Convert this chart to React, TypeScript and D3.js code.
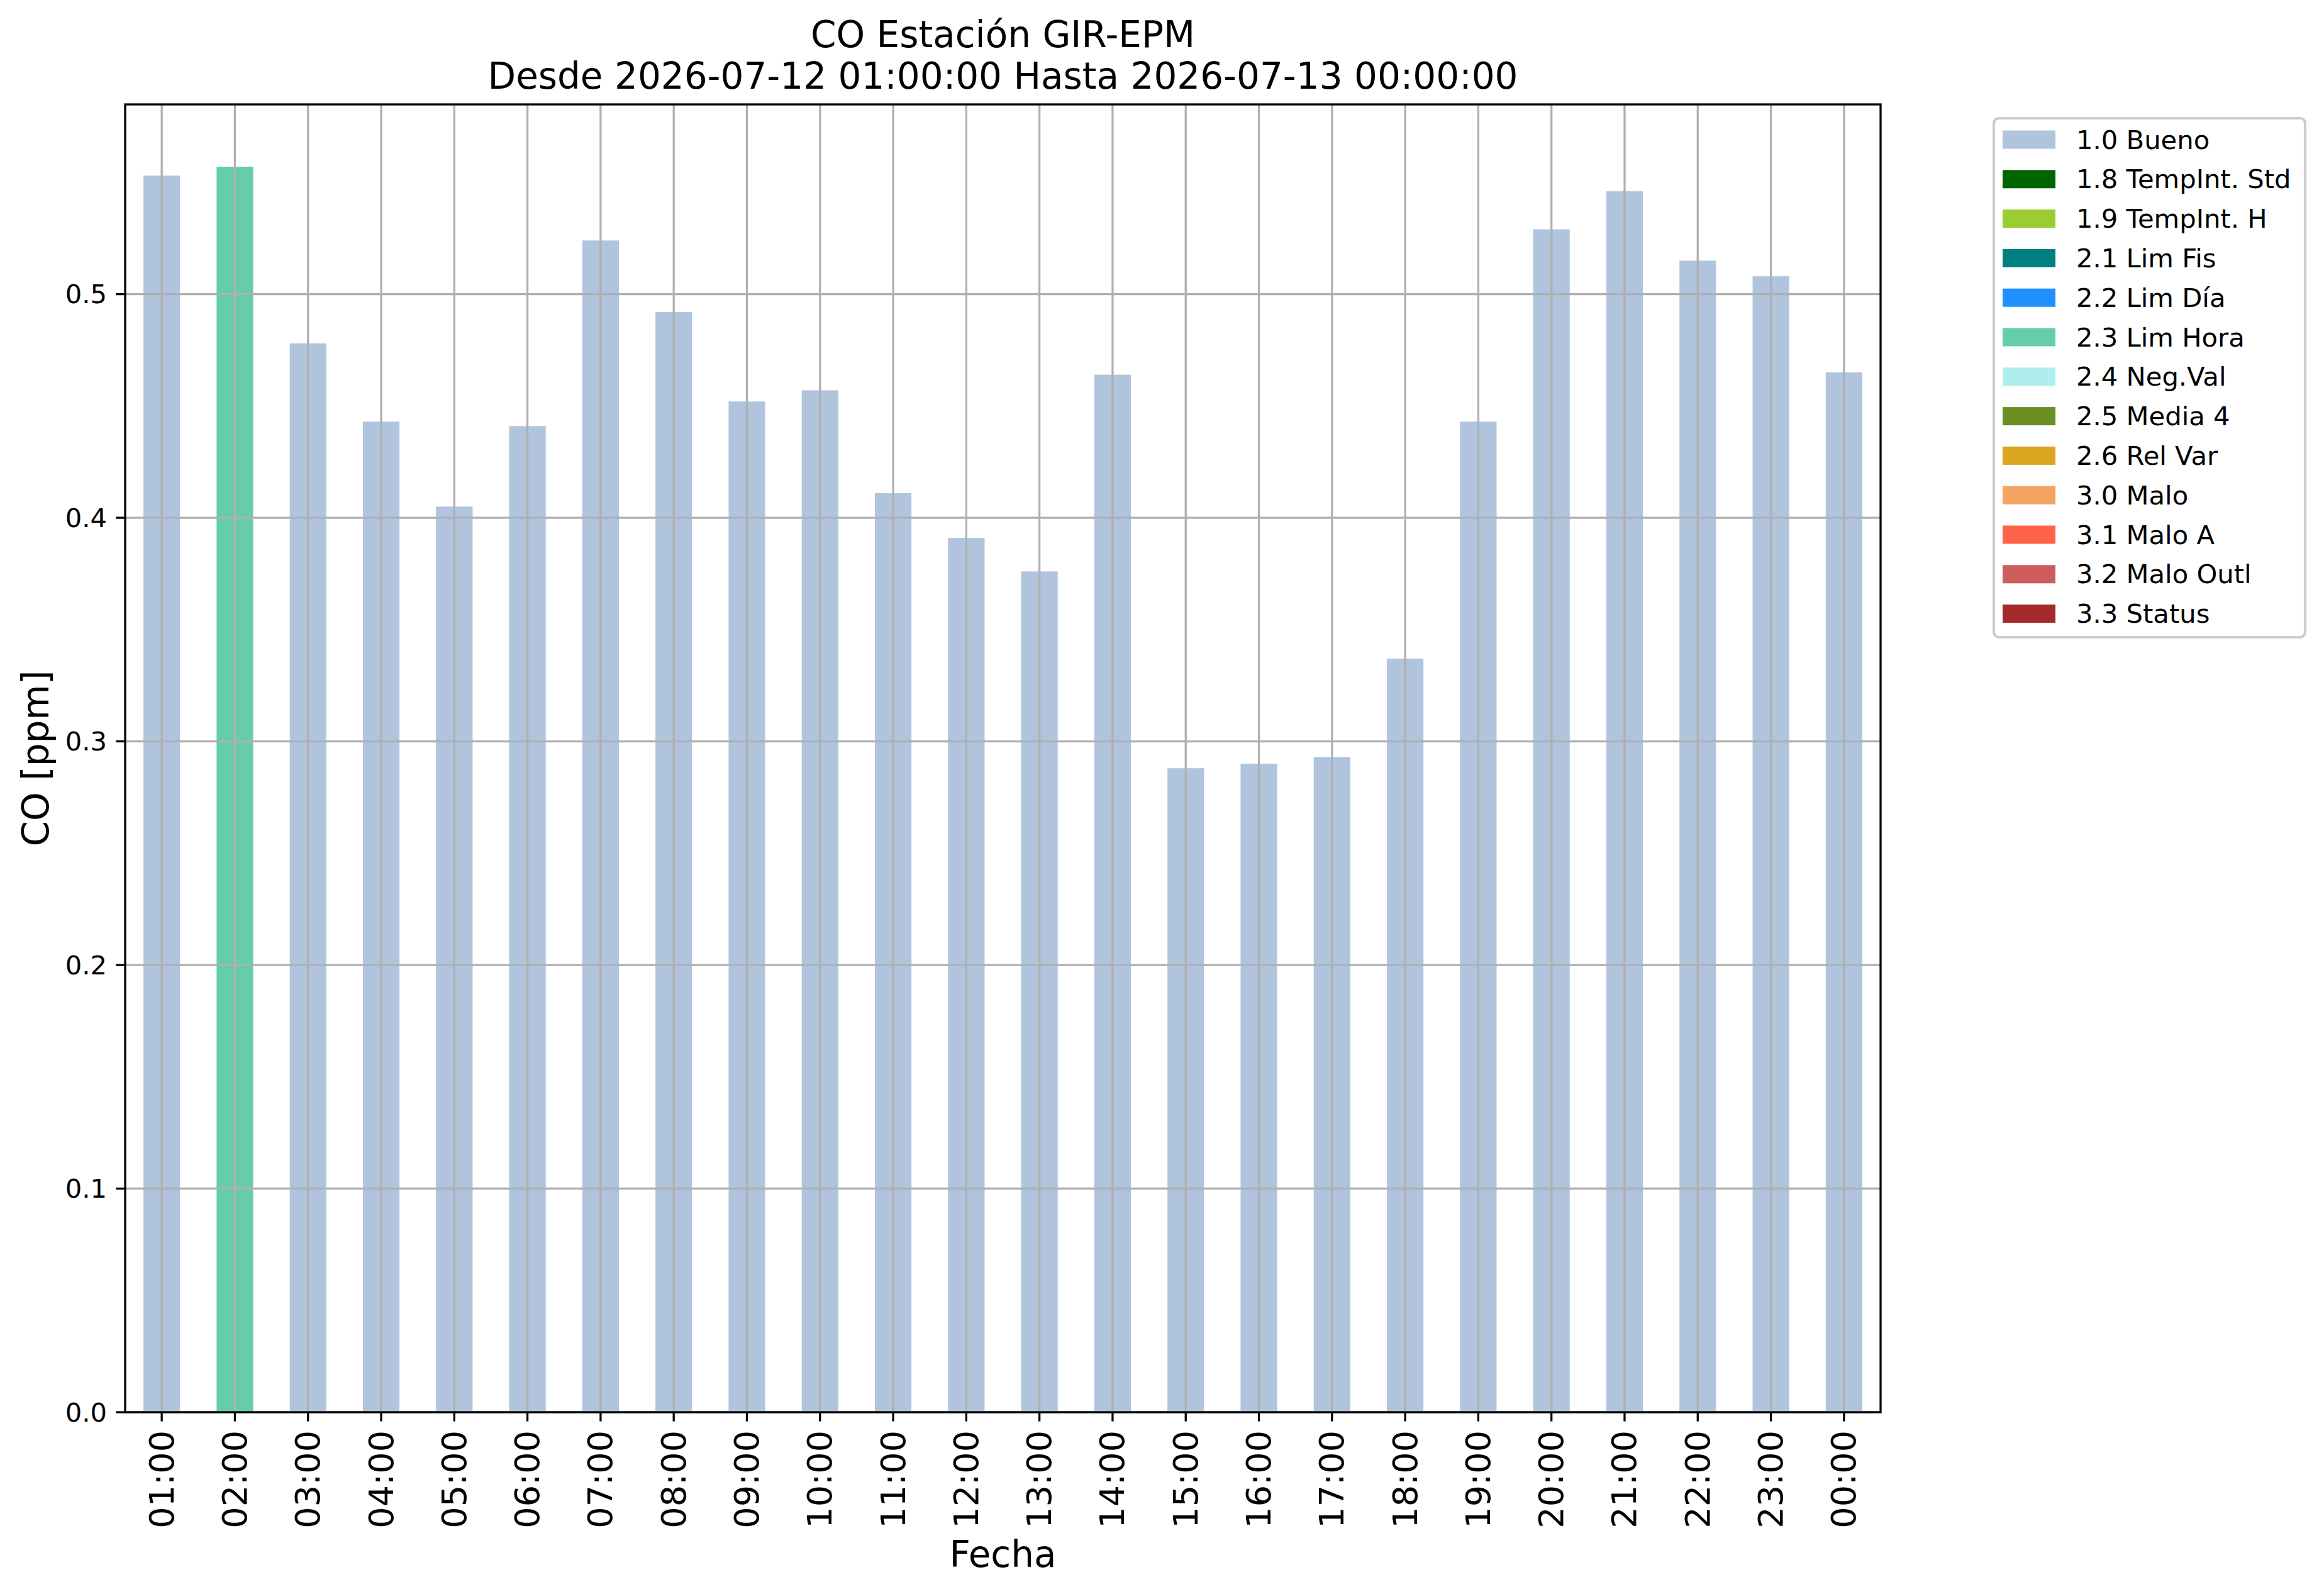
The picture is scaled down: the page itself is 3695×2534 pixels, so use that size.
import { useRef, useEffect } from 'react';
import * as d3 from 'd3';

const WIDTH = 3695;
const HEIGHT = 2534;
const FONT = 'DejaVu Sans, sans-serif';

// axes box in pixels
const AX_LEFT = 199;
const AX_RIGHT = 2990;
const AX_TOP = 166;
const AX_BOTTOM = 2245;

const hours = [
  '01:00', '02:00', '03:00', '04:00', '05:00', '06:00', '07:00', '08:00',
  '09:00', '10:00', '11:00', '12:00', '13:00', '14:00', '15:00', '16:00',
  '17:00', '18:00', '19:00', '20:00', '21:00', '22:00', '23:00', '00:00',
];

const coValues = [
  0.553, 0.557, 0.478, 0.443, 0.405, 0.441, 0.524, 0.492,
  0.452, 0.457, 0.411, 0.391, 0.376, 0.464, 0.288, 0.290,
  0.293, 0.337, 0.443, 0.529, 0.546, 0.515, 0.508, 0.465,
];

// quality flag of each hour
const hourFlags = [
  '1.0 Bueno', '2.3 Lim Hora', '1.0 Bueno', '1.0 Bueno', '1.0 Bueno', '1.0 Bueno',
  '1.0 Bueno', '1.0 Bueno', '1.0 Bueno', '1.0 Bueno', '1.0 Bueno', '1.0 Bueno',
  '1.0 Bueno', '1.0 Bueno', '1.0 Bueno', '1.0 Bueno', '1.0 Bueno', '1.0 Bueno',
  '1.0 Bueno', '1.0 Bueno', '1.0 Bueno', '1.0 Bueno', '1.0 Bueno', '1.0 Bueno',
];

const flagLabels = [
  '1.0 Bueno', '1.8 TempInt. Std', '1.9 TempInt. H', '2.1 Lim Fis', '2.2 Lim Día',
  '2.3 Lim Hora', '2.4 Neg.Val', '2.5 Media 4', '2.6 Rel Var', '3.0 Malo',
  '3.1 Malo A', '3.2 Malo Outl', '3.3 Status',
];

const flagColors = [
  '#b0c4de', '#006400', '#9acd32', '#008080', '#1e90ff',
  '#66cdaa', '#afeeee', '#6b8e23', '#daa520', '#f4a460',
  '#ff6347', '#cd5c5c', '#a52a2a',
];

const yTicks = [0.0, 0.1, 0.2, 0.3, 0.4, 0.5];

const titleLines = ['CO Estación GIR-EPM', 'Desde 2026-07-12 01:00:00 Hasta 2026-07-13 00:00:00'];

export default function App() {
  const svgRef = useRef<SVGSVGElement>(null);

  useEffect(() => {
    document.body.style.margin = '0';
    const svg = d3.select(svgRef.current);
    svg.selectAll('*').remove();

    const color = d3.scaleOrdinal<string, string>().domain(flagLabels).range(flagColors);

    const x = d3
      .scaleBand<string>()
      .domain(hours)
      .range([AX_LEFT, AX_RIGHT])
      .paddingInner(0.5)
      .paddingOuter(0.25);

    const yMax = (d3.max(coValues) ?? 0) * 1.05;
    const y = d3.scaleLinear().domain([0, yMax]).range([AX_BOTTOM, AX_TOP]);

    svg.append('rect').attr('width', WIDTH).attr('height', HEIGHT).attr('fill', '#ffffff');

    // Bars
    svg
      .append('g')
      .selectAll('rect')
      .data(hours)
      .join('rect')
      .attr('x', (d) => x(d)!)
      .attr('y', (_, i) => y(coValues[i]))
      .attr('width', x.bandwidth())
      .attr('height', (_, i) => y(0) - y(coValues[i]))
      .attr('fill', (_, i) => color(hourFlags[i]));

    // Grid (drawn over bars)
    const grid = svg.append('g').attr('stroke', '#b0b0b0').attr('stroke-width', 3.3);
    hours.forEach((h) => {
      const cx = x(h)! + x.bandwidth() / 2;
      grid.append('line').attr('x1', cx).attr('x2', cx).attr('y1', AX_TOP).attr('y2', AX_BOTTOM);
    });
    yTicks.forEach((t) => {
      grid
        .append('line')
        .attr('x1', AX_LEFT)
        .attr('x2', AX_RIGHT)
        .attr('y1', y(t))
        .attr('y2', y(t));
    });

    // Spines
    svg
      .append('rect')
      .attr('x', AX_LEFT)
      .attr('y', AX_TOP)
      .attr('width', AX_RIGHT - AX_LEFT)
      .attr('height', AX_BOTTOM - AX_TOP)
      .attr('fill', 'none')
      .attr('stroke', '#000')
      .attr('stroke-width', 3.3);

    // Y ticks
    const yAxis = svg.append('g');
    yTicks.forEach((t) => {
      yAxis
        .append('line')
        .attr('x1', AX_LEFT - 14.6)
        .attr('x2', AX_LEFT)
        .attr('y1', y(t))
        .attr('y2', y(t))
        .attr('stroke', '#000')
        .attr('stroke-width', 3.3);
      yAxis
        .append('text')
        .attr('x', AX_LEFT - 29)
        .attr('y', y(t))
        .attr('text-anchor', 'end')
        .attr('dominant-baseline', 'central')
        .attr('font-family', FONT)
        .attr('font-size', 41.7)
        .text(d3.format('.1f')(t));
    });

    // X ticks
    const xAxis = svg.append('g');
    hours.forEach((h) => {
      const cx = x(h)! + x.bandwidth() / 2;
      xAxis
        .append('line')
        .attr('x1', cx)
        .attr('x2', cx)
        .attr('y1', AX_BOTTOM)
        .attr('y2', AX_BOTTOM + 14.6)
        .attr('stroke', '#000')
        .attr('stroke-width', 3.3);
      xAxis
        .append('text')
        .attr('transform', `translate(${cx},${AX_BOTTOM + 29}) rotate(-90)`)
        .attr('text-anchor', 'end')
        .attr('dominant-baseline', 'central')
        .attr('font-family', FONT)
        .attr('font-size', 54)
        .text(h);
    });

    // Axis labels
    svg
      .append('text')
      .attr('x', (AX_LEFT + AX_RIGHT) / 2)
      .attr('y', 2491)
      .attr('text-anchor', 'middle')
      .attr('font-family', FONT)
      .attr('font-size', 58)
      .text('Fecha');
    svg
      .append('text')
      .attr('transform', `translate(77,${(AX_TOP + AX_BOTTOM) / 2}) rotate(-90)`)
      .attr('text-anchor', 'middle')
      .attr('font-family', FONT)
      .attr('font-size', 58)
      .text('CO [ppm]');

    // Title
    titleLines.forEach((line, i) => {
      svg
        .append('text')
        .attr('x', (AX_LEFT + AX_RIGHT) / 2)
        .attr('y', AX_TOP - 25 - (titleLines.length - 1 - i) * 66)
        .attr('text-anchor', 'middle')
        .attr('font-family', FONT)
        .attr('font-size', 58)
        .text(line);
    });

    // Legend
    const lg = svg.append('g');
    lg.append('rect')
      .attr('x', 3170)
      .attr('y', 188)
      .attr('width', 495)
      .attr('height', 825)
      .attr('rx', 8)
      .attr('fill', '#ffffff')
      .attr('stroke', '#cccccc')
      .attr('stroke-width', 4.2);
    flagLabels.forEach((label, i) => {
      const cy = 222 + i * 62.8;
      lg.append('rect')
        .attr('x', 3184)
        .attr('y', cy - 14.5)
        .attr('width', 84)
        .attr('height', 29)
        .attr('fill', color(label));
      lg.append('text')
        .attr('x', 3301)
        .attr('y', cy)
        .attr('dominant-baseline', 'central')
        .attr('font-family', FONT)
        .attr('font-size', 41.7)
        .text(label);
    });
  }, []);

  return <svg ref={svgRef} width={WIDTH} height={HEIGHT} style={{ display: 'block' }} />;
}
